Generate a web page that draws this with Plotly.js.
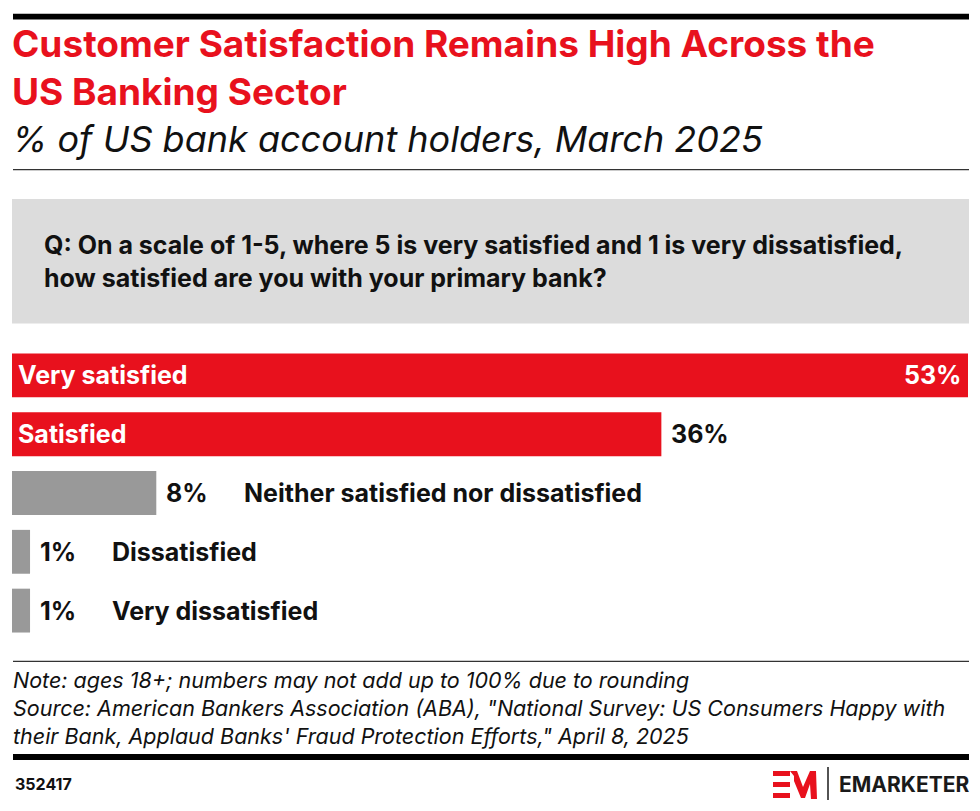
<!DOCTYPE html>
<html>
<head>
<meta charset="utf-8">
<script src="https://cdn.plot.ly/plotly-3.0.1.min.js"></script>
<style>
  html, body { margin: 0; padding: 0; background: #ffffff; }
  #chart { width: 980px; height: 811px; }
</style>
</head>
<body>
<div id="chart"></div>
<script>
// ---- Data ----
const categories = ["Very satisfied", "Satisfied", "Neither satisfied nor dissatisfied", "Dissatisfied", "Very dissatisfied"];
const values = [53, 36, 8, 1, 1];
const valueLabels = ["53%", "36%", "8%", "1%", "1%"];

const titleText = "Customer Satisfaction Remains High Across the<br>US Banking Sector";
const subtitleText = "% of US bank account holders, March 2025";
const questionText = "Q: On a scale of 1-5, where 5 is very satisfied and 1 is very dissatisfied,<br>how satisfied are you with your primary bank?";
const noteText = "Note: ages 18+; numbers may not add up to 100% due to rounding<br>Source: American Bankers Association (ABA), \"National Survey: US Consumers Happy with<br>their Bank, Applaud Banks' Fraud Protection Efforts,\" April 8, 2025";
const chartId = "352417";
const brandText = "EMARKETER";

// ---- Styling ----
const W = 980, H = 811;
const M = { l: 12, r: 12, t: 345.5, b: 170.5 };
const PW = W - M.l - M.r, PH = H - M.t - M.b;
const RED = "#e8111d", GREY = "#999999", BOX = "#dcdcdc";
const FONT = "Inter, 'Open Sans', sans-serif";
const LABEL_SIZE = 25;

const px = x => (x - M.l) / PW;          // pixel x -> paper x
const py = y => (H - M.b - y) / PH;      // pixel y -> paper y

const ctx = document.createElement("canvas").getContext("2d");
ctx.font = "bold " + LABEL_SIZE + "px Inter";
const textW = s => ctx.measureText(s).width;

const maxVal = Math.max(...values);
const colors = values.map(v => v > 20 ? RED : GREY);

const trace = {
  type: "bar",
  orientation: "h",
  y: categories,
  x: values,
  marker: { color: colors, line: { width: 0 } },
  hoverinfo: "none",
  cliponaxis: false
};

const annotations = [];
categories.forEach((c, i) => {
  const v = values[i];
  const big = v > 20;
  if (v === maxVal) {
    annotations.push({ x: v, y: c, xref: "x", yref: "y", text: "<b>" + valueLabels[i] + "</b>",
      showarrow: false, xanchor: "right", xshift: -4, font: { family: FONT, size: LABEL_SIZE, color: "#ffffff" } });
  } else {
    annotations.push({ x: v, y: c, xref: "x", yref: "y", text: "<b>" + valueLabels[i] + "</b>",
      showarrow: false, xanchor: "left", xshift: 8, font: { family: FONT, size: LABEL_SIZE, color: "#111111" } });
  }
  if (big) {
    annotations.push({ x: 0, y: c, xref: "x", yref: "y", text: "<b>" + c + "</b>",
      showarrow: false, xanchor: "left", xshift: 4, font: { family: FONT, size: LABEL_SIZE, color: "#ffffff" } });
  } else {
    annotations.push({ x: v, y: c, xref: "x", yref: "y", text: "<b>" + c + "</b>",
      showarrow: false, xanchor: "left", xshift: 8 + textW(valueLabels[i]) + 36,
      font: { family: FONT, size: LABEL_SIZE, color: "#111111" } });
  }
});

annotations.push(
  { xref: "paper", yref: "paper", x: px(10), y: py(138), xanchor: "left", yanchor: "middle",
    text: "<i>" + subtitleText + "</i>", showarrow: false, font: { family: FONT, size: 36, color: "#111111" } },
  { xref: "paper", yref: "paper", x: px(42), y: py(261), xanchor: "left", yanchor: "middle", align: "left",
    text: "<b>" + questionText + "</b>", showarrow: false, font: { family: FONT, size: 25, color: "#111111" } },
  { xref: "paper", yref: "paper", x: px(11), y: py(709), xanchor: "left", yanchor: "middle", align: "left",
    text: "<i>" + noteText + "</i>", showarrow: false, font: { family: FONT, size: 21.5, color: "#111111" } },
  { xref: "paper", yref: "paper", x: px(13), y: py(785), xanchor: "left", yanchor: "middle",
    text: "<b>" + chartId + "</b>", showarrow: false, font: { family: FONT, size: 16, color: "#111111" } },
  { xref: "paper", yref: "paper", x: px(971), y: py(785), xanchor: "right", yanchor: "middle",
    text: "<b>" + brandText + "</b>", showarrow: false, font: { family: FONT, size: 21, color: "#1a1a1a" } }
);

const shapes = [
  { type: "rect", xref: "paper", yref: "paper", x0: px(13), x1: px(969), y0: py(12), y1: py(18), fillcolor: "#000000", line: { width: 0 } },
  { type: "line", xref: "paper", yref: "paper", x0: px(13), x1: px(969), y0: py(168.5), y1: py(168.5), line: { color: "#333333", width: 1.2 } },
  { type: "rect", xref: "paper", yref: "paper", x0: px(12), x1: px(969), y0: py(198), y1: py(323), fillcolor: BOX, line: { width: 0 }, layer: "below" },
  { type: "line", xref: "paper", yref: "paper", x0: px(13), x1: px(969), y0: py(662), y1: py(662), line: { color: "#333333", width: 1.2 } },
  { type: "rect", xref: "paper", yref: "paper", x0: px(13), x1: px(969), y0: py(755), y1: py(761), fillcolor: "#000000", line: { width: 0 } },
  { type: "line", xref: "paper", yref: "paper", x0: px(828), x1: px(828), y0: py(768), y1: py(801), line: { color: "#1a1a1a", width: 1.5 } }
];

function P(x, y) { return px(x).toFixed(5) + "," + py(y).toFixed(5); }
const ePath = "M" + P(773, 772) + " L" + P(790, 772) + " L" + P(790, 777) + " L" + P(773, 777) + " Z " +
              "M" + P(773, 783) + " L" + P(790, 783) + " L" + P(790, 788) + " L" + P(773, 788) + " Z " +
              "M" + P(773, 794) + " L" + P(790, 794) + " L" + P(790, 799) + " L" + P(773, 799) + " Z";
const mPath = "M" + P(790, 772) + " L" + P(797, 772) + " L" + P(803, 788) + " L" + P(810, 772) + " L" + P(816, 772) +
              " L" + P(817, 800) + " L" + P(811, 800) + " L" + P(810, 785) + " L" + P(805, 799) + " L" + P(801, 799) +
              " L" + P(794, 782) + " L" + P(794, 777) + " Z";
shapes.push({ type: "path", xref: "paper", yref: "paper", path: ePath, fillcolor: RED, line: { width: 0 } });
shapes.push({ type: "path", xref: "paper", yref: "paper", path: mPath, fillcolor: RED, line: { width: 0 } });

const layout = {
  width: W, height: H,
  margin: M,
  paper_bgcolor: "#ffffff",
  plot_bgcolor: "#ffffff",
  showlegend: false,
  bargap: 15 / 59,
  title: {
    text: "<b>" + titleText + "</b>",
    font: { family: FONT, size: 37, color: RED },
    x: 12 / W, xref: "container", xanchor: "left",
    y: 1 - 57 / H, yref: "container", yanchor: "top"
  },
  xaxis: { range: [0, maxVal], visible: false, fixedrange: true },
  yaxis: { autorange: "reversed", visible: false, fixedrange: true },
  annotations: annotations,
  shapes: shapes
};

Plotly.newPlot("chart", [trace], layout, { displayModeBar: false, staticPlot: true });
</script>
</body>
</html>
